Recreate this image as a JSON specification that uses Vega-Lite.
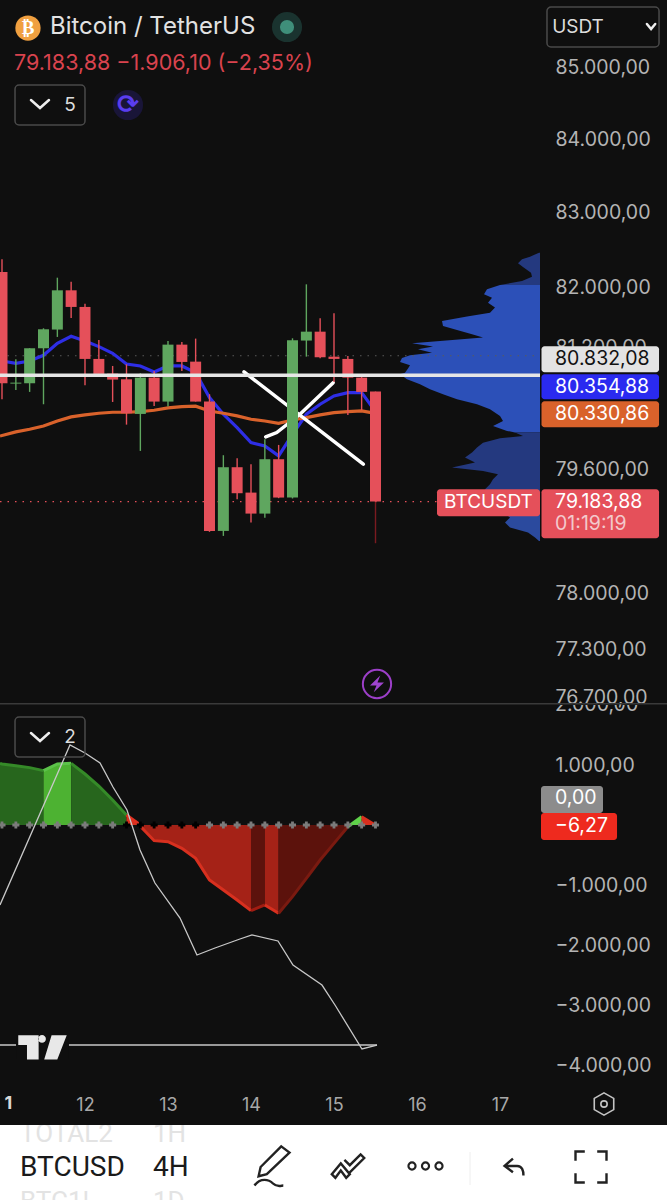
{
"$schema":"https://vega.github.io/schema/vega-lite/v6.json",
"background":"#0f0f0f","padding":0,"spacing":0,"bounds":"flush",
"config":{"view":{"stroke":null},"concat":{"spacing":0},"locale":{"number":{"decimal":",","thousands":".","grouping":[3],"currency":["","€"]}},"text":{"font":"Inter"}},
"datasets":{
"profile":[
{"price":82465,"vol":1,"zone":"upper"},{"price":82411,"vol":10,"zone":"upper"},{"price":82375,"vol":18,"zone":"upper"},{"price":82321,"vol":22,"zone":"upper"},{"price":82263,"vol":16,"zone":"upper"},{"price":82196,"vol":9,"zone":"upper"},{"price":82143,"vol":8,"zone":"upper"},{"price":82085,"vol":18,"zone":"upper"},{"price":82031,"vol":40,"zone":"upper"},
{"price":82031,"vol":40,"zone":"value"},{"price":81973,"vol":53,"zone":"value"},{"price":81907,"vol":56,"zone":"value"},{"price":81862,"vol":48,"zone":"value"},{"price":81795,"vol":52,"zone":"value"},{"price":81729,"vol":45,"zone":"value"},{"price":81662,"vol":50,"zone":"value"},{"price":81609,"vol":73,"zone":"value"},{"price":81551,"vol":98,"zone":"value"},{"price":81485,"vol":97,"zone":"value"},{"price":81432,"vol":83,"zone":"value"},{"price":81374,"vol":68,"zone":"value"},{"price":81330,"vol":57,"zone":"value"},{"price":81286,"vol":100,"zone":"value"},{"price":81255,"vol":128,"zone":"value"},{"price":81211,"vol":107,"zone":"value"},{"price":81175,"vol":122,"zone":"value"},{"price":81131,"vol":108,"zone":"value"},{"price":81096,"vol":130,"zone":"value"},{"price":81061,"vol":138,"zone":"value"},{"price":81008,"vol":140,"zone":"value"},{"price":80964,"vol":130,"zone":"value"},{"price":80920,"vol":132,"zone":"value"},{"price":80867,"vol":135,"zone":"value"},{"price":80845,"vol":140,"zone":"value"},{"price":80779,"vol":133,"zone":"value"},{"price":80714,"vol":120,"zone":"value"},{"price":80648,"vol":110,"zone":"value"},{"price":80582,"vol":97,"zone":"value"},{"price":80516,"vol":83,"zone":"value"},{"price":80451,"vol":63,"zone":"value"},{"price":80385,"vol":50,"zone":"value"},{"price":80298,"vol":40,"zone":"value"},{"price":80232,"vol":37,"zone":"value"},{"price":80167,"vol":47,"zone":"value"},{"price":80102,"vol":33,"zone":"value"},{"price":80080,"vol":25,"zone":"value"},
{"price":80080,"vol":25,"zone":"lower"},{"price":80037,"vol":17,"zone":"lower"},{"price":80006,"vol":40,"zone":"lower"},{"price":79949,"vol":57,"zone":"lower"},{"price":79884,"vol":63,"zone":"lower"},{"price":79819,"vol":68,"zone":"lower"},{"price":79754,"vol":75,"zone":"lower"},{"price":79689,"vol":65,"zone":"lower"},{"price":79624,"vol":88,"zone":"lower"},{"price":79581,"vol":57,"zone":"lower"},{"price":79538,"vol":42,"zone":"lower"},{"price":79473,"vol":47,"zone":"lower"},{"price":79408,"vol":50,"zone":"lower"},{"price":79343,"vol":55,"zone":"lower"},{"price":79171,"vol":50,"zone":"lower"},
{"price":79171,"vol":50,"zone":"bottom"},{"price":78978,"vol":30,"zone":"bottom"},{"price":78914,"vol":35,"zone":"bottom"},{"price":78849,"vol":30,"zone":"bottom"},{"price":78785,"vol":12,"zone":"bottom"},{"price":78721,"vol":5,"zone":"bottom"},{"price":78678,"vol":1,"zone":"bottom"}
],
"candles":[
{"day":11.0,"open":82205,"close":80727,"hi":82375,"lo":80516,"dir":"down"},
{"day":11.167,"open":80722,"close":80735,"hi":81043,"lo":80639,"dir":"up"},
{"day":11.333,"open":80727,"close":81189,"hi":81189,"lo":80613,"dir":"up"},
{"day":11.5,"open":81189,"close":81441,"hi":81454,"lo":80451,"dir":"up"},
{"day":11.667,"open":81437,"close":81960,"hi":82129,"lo":81339,"dir":"up"},
{"day":11.833,"open":81960,"close":81738,"hi":82076,"lo":81591,"dir":"down"},
{"day":12.0,"open":81738,"close":81048,"hi":81782,"lo":80700,"dir":"down"},
{"day":12.167,"open":81048,"close":80850,"hi":81299,"lo":80823,"dir":"down"},
{"day":12.333,"open":80854,"close":80775,"hi":80955,"lo":80481,"dir":"down"},
{"day":12.5,"open":80779,"close":80333,"hi":80977,"lo":80184,"dir":"down"},
{"day":12.667,"open":80324,"close":80801,"hi":80858,"lo":79841,"dir":"up"},
{"day":12.833,"open":80801,"close":80486,"hi":80889,"lo":80429,"dir":"down"},
{"day":13.0,"open":80486,"close":81237,"hi":81286,"lo":80420,"dir":"up"},
{"day":13.167,"open":81237,"close":81008,"hi":81272,"lo":80889,"dir":"down"},
{"day":13.333,"open":81012,"close":80486,"hi":81317,"lo":80486,"dir":"down"},
{"day":13.5,"open":80486,"close":78806,"hi":80582,"lo":78794,"dir":"down"},
{"day":13.667,"open":78806,"close":79629,"hi":79785,"lo":78742,"dir":"up"},
{"day":13.833,"open":79629,"close":79292,"hi":79746,"lo":79214,"dir":"down"},
{"day":14.0,"open":79300,"close":79029,"hi":79668,"lo":78914,"dir":"down"},
{"day":14.167,"open":79029,"close":79733,"hi":79993,"lo":78974,"dir":"up"},
{"day":14.333,"open":79733,"close":79236,"hi":79919,"lo":79228,"dir":"down"},
{"day":14.5,"open":79236,"close":81295,"hi":81321,"lo":79224,"dir":"up"},
{"day":14.667,"open":81291,"close":81409,"hi":82040,"lo":81078,"dir":"up"},
{"day":14.833,"open":81409,"close":81070,"hi":81587,"lo":81056,"dir":"down"},
{"day":15.0,"open":81078,"close":81048,"hi":81653,"lo":80744,"dir":"down"},
{"day":15.167,"open":81048,"close":80801,"hi":81087,"lo":80311,"dir":"down"},
{"day":15.333,"open":80801,"close":80613,"hi":80823,"lo":80372,"dir":"down"},
{"day":15.5,"open":80617,"close":79183.88,"hi":80617,"lo":79183.88,"dir":"down"}
],
"ma":[
{"day":11.0,"price":81021,"ma":"fast"},{"day":11.167,"price":80990,"ma":"fast"},{"day":11.333,"price":81021,"ma":"fast"},{"day":11.5,"price":81096,"ma":"fast"},{"day":11.667,"price":81255,"ma":"fast"},{"day":11.833,"price":81348,"ma":"fast"},{"day":12.0,"price":81286,"ma":"fast"},{"day":12.167,"price":81211,"ma":"fast"},{"day":12.333,"price":81122,"ma":"fast"},{"day":12.5,"price":80981,"ma":"fast"},{"day":12.667,"price":80955,"ma":"fast"},{"day":12.833,"price":80876,"ma":"fast"},{"day":13.0,"price":80955,"ma":"fast"},{"day":13.167,"price":80955,"ma":"fast"},{"day":13.333,"price":80867,"ma":"fast"},{"day":13.5,"price":80538,"ma":"fast"},{"day":13.667,"price":80320,"ma":"fast"},{"day":13.833,"price":80145,"ma":"fast"},{"day":14.0,"price":79949,"ma":"fast"},{"day":14.167,"price":79906,"ma":"fast"},{"day":14.333,"price":79776,"ma":"fast"},{"day":14.5,"price":80058,"ma":"fast"},{"day":14.667,"price":80320,"ma":"fast"},{"day":14.833,"price":80451,"ma":"fast"},{"day":15.0,"price":80560,"ma":"fast"},{"day":15.167,"price":80604,"ma":"fast"},{"day":15.333,"price":80604,"ma":"fast"},{"day":15.5,"price":80354.88,"ma":"fast"},
{"day":10.976,"price":80035,"ma":"slow"},{"day":11.167,"price":80089,"ma":"slow"},{"day":11.333,"price":80123,"ma":"slow"},{"day":11.5,"price":80167,"ma":"slow"},{"day":11.667,"price":80232,"ma":"slow"},{"day":11.833,"price":80285,"ma":"slow"},{"day":12.0,"price":80311,"ma":"slow"},{"day":12.167,"price":80333,"ma":"slow"},{"day":12.333,"price":80346,"ma":"slow"},{"day":12.5,"price":80346,"ma":"slow"},{"day":12.667,"price":80355,"ma":"slow"},{"day":12.833,"price":80372,"ma":"slow"},{"day":13.0,"price":80403,"ma":"slow"},{"day":13.167,"price":80420,"ma":"slow"},{"day":13.333,"price":80425,"ma":"slow"},{"day":13.5,"price":80363,"ma":"slow"},{"day":13.667,"price":80333,"ma":"slow"},{"day":13.833,"price":80298,"ma":"slow"},{"day":14.0,"price":80254,"ma":"slow"},{"day":14.167,"price":80232,"ma":"slow"},{"day":14.333,"price":80202,"ma":"slow"},{"day":14.5,"price":80245,"ma":"slow"},{"day":14.667,"price":80276,"ma":"slow"},{"day":14.833,"price":80311,"ma":"slow"},{"day":15.0,"price":80342,"ma":"slow"},{"day":15.167,"price":80355,"ma":"slow"},{"day":15.333,"price":80363,"ma":"slow"},{"day":15.5,"price":80330.86,"ma":"slow"}
],
"strokes":[
{"day":13.916,"price":80876,"s":"a"},{"day":15.353,"price":79668,"s":"a"},
{"day":14.177,"price":80023,"s":"b"},{"day":14.31,"price":80080,"s":"b"},{"day":14.437,"price":80189,"s":"b"},{"day":14.59,"price":80320,"s":"b"},{"day":14.99,"price":80735,"s":"b"}
],
"chips":[
{"x0":17.5,"x1":18.916,"top":81215,"bottom":80872,"c":"last"},
{"x0":17.5,"x1":18.916,"top":80845,"bottom":80516,"c":"fast"},
{"x0":17.5,"x1":18.916,"top":80490,"bottom":80149,"c":"slow"},
{"x0":17.5,"x1":18.916,"top":79343,"bottom":78712,"c":"price"},
{"x0":16.241,"x1":17.482,"top":79343,"bottom":78995,"c":"price"}
],
"chipText":[
{"day":17.663,"price":81043,"label":"80.832,08","c":"dark"},
{"day":17.663,"price":80680,"label":"80.354,88","c":"light"},
{"day":17.663,"price":80320,"label":"80.330,86","c":"light"},
{"day":17.663,"price":79183.88,"label":"79.183,88","c":"light"},
{"day":17.663,"price":78892,"label":"01:19:19","c":"soft"}
],
"boxes":[
{"x0":11.157,"x1":12.0,"top":84751,"bottom":84200},
{"x0":17.566,"x1":18.916,"top":85836,"bottom":85278}
],
"chev":[
{"day":11.349,"price":84544,"g":"a"},{"day":11.458,"price":84433,"g":"a"},{"day":11.566,"price":84544,"g":"a"},
{"day":18.77,"price":85598,"g":"b"},{"day":18.82,"price":85528,"g":"b"},{"day":18.87,"price":85598,"g":"b"}
],
"indicator":[
{"day":10.976,"hist":1028,"seg":"A"},{"day":11.0,"hist":1017,"seg":"A"},{"day":11.167,"hist":989,"seg":"A"},{"day":11.333,"hist":956,"seg":"A"},{"day":11.5,"hist":906,"seg":"A"},
{"day":11.5,"hist":906,"seg":"B"},{"day":11.667,"hist":1017,"seg":"B"},{"day":11.833,"hist":1028,"seg":"B"},
{"day":11.833,"hist":1028,"seg":"C"},{"day":12.0,"hist":850,"seg":"C"},{"day":12.167,"hist":650,"seg":"C"},{"day":12.333,"hist":417,"seg":"C"},{"day":12.5,"hist":167,"seg":"C"},
{"day":12.5,"hist":167,"seg":"D"},{"day":12.667,"hist":0,"seg":"D"},
{"day":12.667,"hist":-20,"seg":"F"},{"day":12.833,"hist":-261,"seg":"F"},{"day":13.0,"hist":-278,"seg":"F"},{"day":13.167,"hist":-389,"seg":"F"},{"day":13.333,"hist":-556,"seg":"F"},{"day":13.5,"hist":-917,"seg":"F"},{"day":13.667,"hist":-1083,"seg":"F"},{"day":13.833,"hist":-1250,"seg":"F"},{"day":14.0,"hist":-1428,"seg":"F"},
{"day":14.0,"hist":-1428,"seg":"G"},{"day":14.167,"hist":-1333,"seg":"G"},
{"day":14.167,"hist":-1333,"seg":"H"},{"day":14.333,"hist":-1472,"seg":"H"},
{"day":14.333,"hist":-1472,"seg":"I"},{"day":14.5,"hist":-1194,"seg":"I"},{"day":14.667,"hist":-889,"seg":"I"},{"day":14.833,"hist":-583,"seg":"I"},{"day":15.0,"hist":-306,"seg":"I"},{"day":15.167,"hist":-28,"seg":"I"},
{"day":15.167,"hist":-28,"seg":"J"},{"day":15.333,"hist":139,"seg":"J"},
{"day":15.333,"hist":139,"seg":"K"},{"day":15.5,"hist":-6.27,"seg":"K"}
],
"zeroMarks":[
{"day":11.0,"s":"g"},{"day":11.167,"s":"g"},{"day":11.333,"s":"g"},{"day":11.5,"s":"g"},{"day":11.667,"s":"g"},{"day":11.833,"s":"g"},{"day":12.0,"s":"g"},{"day":12.167,"s":"g"},{"day":12.333,"s":"g"},{"day":12.5,"s":"k"},{"day":12.667,"s":"k"},{"day":12.833,"s":"k"},{"day":13.0,"s":"k"},{"day":13.167,"s":"k"},{"day":13.333,"s":"k"},{"day":13.5,"s":"g"},{"day":13.667,"s":"g"},{"day":13.833,"s":"g"},{"day":14.0,"s":"g"},{"day":14.167,"s":"g"},{"day":14.333,"s":"g"},{"day":14.5,"s":"g"},{"day":14.667,"s":"g"},{"day":14.833,"s":"g"},{"day":15.0,"s":"g"},{"day":15.167,"s":"g"},{"day":15.333,"s":"g"},{"day":15.5,"s":"g"}
],
"osc":[
{"day":10.976,"v":-1333,"s":"main"},{"day":11.819,"v":1333,"s":"main"},{"day":12.0,"v":1200,"s":"main"},{"day":12.181,"v":1033,"s":"main"},{"day":12.337,"v":633,"s":"main"},{"day":12.506,"v":250,"s":"main"},{"day":12.663,"v":-417,"s":"main"},{"day":12.843,"v":-967,"s":"main"},{"day":13.145,"v":-1550,"s":"main"},{"day":13.349,"v":-2167,"s":"main"},{"day":13.566,"v":-2050,"s":"main"},{"day":13.867,"v":-1900,"s":"main"},{"day":14.012,"v":-1833,"s":"main"},{"day":14.325,"v":-1933,"s":"main"},{"day":14.506,"v":-2333,"s":"main"},{"day":14.855,"v":-2667,"s":"main"},{"day":15.012,"v":-3000,"s":"main"},{"day":15.337,"v":-3733,"s":"main"},{"day":15.518,"v":-3667,"s":"main"},
{"day":10.976,"v":-3667,"s":"signal"},{"day":15.518,"v":-3667,"s":"signal"}
],
"lowerChips":[
{"x0":17.494,"x1":18.241,"top":650,"bottom":200,"c":"zero"},
{"x0":17.494,"x1":18.41,"top":200,"bottom":-250,"c":"hist"}
]
},
"vconcat":[
{"width":667,"height":705,
"layer":[
{"data":{"name":"profile"},"mark":{"type":"area","orient":"horizontal"},
"encoding":{
"y":{"field":"price","type":"quantitative","title":null,"scale":{"type":"log","domain":[76600,85934],"nice":false,"zero":false},"axis":{"orient":"right","values":[85000,84000,83000,82000,81200,79600,78000,77300,76700],"format":",.2f","labelPadding":-112,"labelAlign":"left","labelColor":"#b4b4b4","labelFont":"Inter","labelFontSize":19.5,"ticks":false,"domain":false,"grid":false,"title":null,"labelOverlap":false,"labelFlush":false,"labelBound":false}},
"x":{"field":"vol","type":"quantitative","stack":null,"scale":{"domain":[540,-127],"nice":false,"zero":false},"axis":null},
"x2":{"datum":0},
"fill":{"field":"zone","type":"nominal","scale":{"domain":["upper","value","lower","bottom"],"range":["#24397f","#2c50b8","#24397f","#2b4a9e"]},"legend":null}
}},
{"encoding":{"x":{"field":"day","type":"quantitative","scale":{"domain":[10.976,19.012],"nice":false,"zero":false,"padding":0},"axis":null}},
"layer":[
{"data":{"values":[{"price":81090,"day":10.976,"end":17.482}]},"mark":{"type":"rule","stroke":"#5a5a5a","strokeWidth":1.2,"strokeDash":[1.5,6],"clip":true},"encoding":{"x2":{"field":"end"},"y":{"field":"price","type":"quantitative","title":null}}},
{"data":{"values":[{"price":79183.88,"day":10.976,"end":16.241}]},"mark":{"type":"rule","stroke":"#e5505a","strokeWidth":1.2,"strokeDash":[1.5,6],"clip":true},"encoding":{"x2":{"field":"end"},"y":{"field":"price","type":"quantitative","title":null}}},
{"data":{"name":"ma"},"mark":{"type":"line","strokeWidth":3.2,"clip":true},"encoding":{"y":{"field":"price","type":"quantitative","title":null},"stroke":{"field":"ma","type":"nominal","scale":{"domain":["fast","slow"],"range":["#2e2ee6","#d9622b"]},"legend":null}}},
{"data":{"name":"strokes"},"mark":{"type":"line","stroke":"#ffffff","strokeWidth":3.5,"strokeCap":"round"},"encoding":{"detail":{"field":"s"},"y":{"field":"price","type":"quantitative","title":null}}},
{"data":{"name":"candles"},"mark":{"type":"rule","strokeWidth":1.4,"clip":true},"encoding":{"y":{"field":"hi","type":"quantitative","title":null},"y2":{"field":"lo"},"color":{"field":"dir","type":"nominal","scale":{"domain":["up","down"],"range":["#5fa65f","#e5505a"]},"legend":null}}},
{"data":{"values":[{"day":15.5,"hi":79183.88,"lo":78648}]},"mark":{"type":"rule","strokeWidth":1.4,"stroke":"#7a1a20"},"encoding":{"y":{"field":"hi","type":"quantitative","title":null},"y2":{"field":"lo"}}},
{"data":{"name":"candles"},"mark":{"type":"bar","size":11,"orient":"vertical","clip":true},"encoding":{"y":{"field":"open","type":"quantitative","title":null},"y2":{"field":"close"},"color":{"field":"dir","type":"nominal","scale":{"domain":["up","down"],"range":["#5fa65f","#e5505a"]},"legend":null}}},
{"data":{"values":[{"price":80832.08,"day":10.976,"end":17.482}]},"mark":{"type":"rule","stroke":"#e6e6e6","strokeWidth":3.6,"clip":true},"encoding":{"x2":{"field":"end"},"y":{"field":"price","type":"quantitative","title":null}}},
{"data":{"name":"chips"},"mark":{"type":"rect","cornerRadius":3},"encoding":{"x":{"field":"x0","type":"quantitative","title":null},"x2":{"field":"x1"},"y":{"field":"top","type":"quantitative","title":null},"y2":{"field":"bottom"},"fill":{"field":"c","type":"nominal","scale":{"domain":["last","fast","slow","price"],"range":["#e3e3e3","#2a2af0","#d9622b","#e5505a"]},"legend":null}}},
{"data":{"name":"chipText"},"mark":{"type":"text","align":"left","baseline":"middle","font":"Inter","fontSize":19.5},"encoding":{"y":{"field":"price","type":"quantitative","title":null},"text":{"field":"label"},"color":{"field":"c","type":"nominal","scale":{"domain":["dark","light","soft"],"range":["#111111","#ffffff","#f3c9cc"]},"legend":null}}},
{"data":{"values":[{"day":16.861,"price":79175,"label":"BTCUSDT"}]},"mark":{"type":"text","align":"center","baseline":"middle","font":"Inter","fontSize":19,"fill":"#ffffff"},"encoding":{"y":{"field":"price","type":"quantitative","title":null},"text":{"field":"label"}}},
{"data":{"name":"boxes"},"mark":{"type":"rect","fill":null,"stroke":"#4a4a4a","strokeWidth":1.5,"cornerRadius":4},"encoding":{"x":{"field":"x0","type":"quantitative","title":null},"x2":{"field":"x1"},"y":{"field":"top","type":"quantitative","title":null},"y2":{"field":"bottom"}}},
{"data":{"name":"chev"},"mark":{"type":"line","stroke":"#eeeeee","strokeWidth":2.5,"strokeCap":"round"},"encoding":{"detail":{"field":"g"},"y":{"field":"price","type":"quantitative","title":null}}},
{"data":{"values":[{"day":11.313,"price":85542}]},"mark":{"type":"point","filled":true,"opacity":1,"shape":"circle","fill":"#f0a040","size":640},"encoding":{"y":{"field":"price","type":"quantitative","title":null}}},
{"data":{"values":[{"day":14.434,"price":85556}]},"mark":{"type":"point","filled":true,"opacity":1,"shape":"circle","fill":"#1a332f","size":908},"encoding":{"y":{"field":"price","type":"quantitative","title":null}}},
{"data":{"values":[{"day":14.434,"price":85556}]},"mark":{"type":"point","filled":true,"opacity":1,"shape":"circle","fill":"#3f8f7a","size":200},"encoding":{"y":{"field":"price","type":"quantitative","title":null}}},
{"data":{"values":[{"day":12.518,"price":84475}]},"mark":{"type":"point","filled":true,"opacity":1,"shape":"circle","fill":"#191538","size":908},"encoding":{"y":{"field":"price","type":"quantitative","title":null}}},
{"data":{"values":[{"day":15.518,"price":76863}]},"mark":{"type":"point","filled":false,"stroke":"#9c3fc8","strokeWidth":2,"size":800,"shape":"circle","opacity":1},"encoding":{"y":{"field":"price","type":"quantitative","title":null}}},
{"data":{"values":[{"day":15.518,"price":76863}]},"mark":{"type":"point","filled":true,"fill":"#a045d0","opacity":1,"size":346,"shape":"M.35,-.9L-.75,.15L-.05,.15L-.35,.9L.75,-.15L.05,-.15Z"},"encoding":{"y":{"field":"price","type":"quantitative","title":null}}},
{"data":{"values":[{"day":11.313,"price":85542,"label":"₿"}]},"mark":{"type":"text","font":"DejaVu Sans","fontWeight":"bold","fontSize":19,"align":"center","baseline":"middle","fill":"#ffffff"},"encoding":{"y":{"field":"price","type":"quantitative","title":null},"text":{"field":"label"}}},
{"data":{"values":[{"day":12.518,"price":84475,"label":"⟳"}]},"mark":{"type":"text","font":"DejaVu Sans","fontWeight":"bold","fontSize":26,"align":"center","baseline":"middle","fill":"#5a3df0"},"encoding":{"y":{"field":"price","type":"quantitative","title":null},"text":{"field":"label"}}},
{"data":{"values":[{"day":11.578,"price":85556,"label":"Bitcoin / TetherUS"}]},"mark":{"type":"text","align":"left","baseline":"middle","font":"Inter","fontSize":24,"fill":"#e2e2e2"},"encoding":{"y":{"field":"price","type":"quantitative","title":null},"text":{"field":"label"}}},
{"data":{"values":[{"day":11.145,"price":85042,"label":"79.183,88  −1.906,10 (−2,35%)"}]},"mark":{"type":"text","align":"left","baseline":"middle","font":"Inter","fontSize":21.5,"fill":"#d9434e"},"encoding":{"y":{"field":"price","type":"quantitative","title":null},"text":{"field":"label"}}},
{"data":{"values":[{"day":11.819,"price":84475,"label":"5"},{"day":17.94,"price":85556,"label":"USDT"}]},"mark":{"type":"text","align":"center","baseline":"middle","font":"Inter","fontSize":19,"fill":"#dddddd"},"encoding":{"y":{"field":"price","type":"quantitative","title":null},"text":{"field":"label"}}},
{"data":{"values":[{"day":10.976,"end":19.012,"price":76615}]},"mark":{"type":"rule","stroke":"#3a3a3a","strokeWidth":1.5,"clip":true},"encoding":{"x2":{"field":"end"},"y":{"field":"price","type":"quantitative","title":null}}}
],
"resolve":{"scale":{"fill":"independent","color":"independent","stroke":"independent"}}
}
],
"resolve":{"scale":{"x":"independent","fill":"independent","color":"independent","stroke":"independent"}}
},
{"width":667,"height":420,
"encoding":{"x":{"field":"day","type":"quantitative","title":null,"scale":{"domain":[10.976,19.012],"nice":false,"zero":false},"axis":{"orient":"bottom","values":[12,13,14,15,16,17],"format":"d","labelPadding":-20,"labelBaseline":"middle","labelColor":"#a8a8a8","labelFont":"Inter","labelFontSize":18,"ticks":false,"domain":false,"grid":false,"title":null,"labelFlush":false,"labelBound":false,"labelOverlap":false}}},
"layer":[
{"data":{"name":"indicator"},"mark":{"type":"area","clip":true},"encoding":{
"y":{"field":"hist","type":"quantitative","title":null,"stack":null,"scale":{"domain":[-5000,2000],"nice":false,"zero":false},"axis":{"orient":"right","values":[1000,-1000,-2000,-3000,-4000],"format":",.2f","labelPadding":-112,"labelAlign":"left","labelColor":"#b4b4b4","labelFont":"Inter","labelFontSize":19.5,"ticks":false,"domain":false,"grid":false,"title":null,"labelOverlap":false,"labelFlush":false,"labelBound":false}},
"y2":{"datum":0},
"fill":{"field":"seg","type":"nominal","scale":{"domain":["A","B","C","D","F","G","H","I","J","K"],"range":["#27661d","#4db232","#27661d","#d8301f","#a52217","#5c120c","#a52217","#5c120c","#5fd24a","#d8301f"]},"legend":null}
}},
{"data":{"name":"indicator"},"mark":{"type":"line","strokeWidth":3,"clip":true},"encoding":{
"y":{"field":"hist","type":"quantitative","title":null,"stack":null},
"stroke":{"field":"seg","type":"nominal","scale":{"domain":["A","B","C","D","F","G","H","I","J","K"],"range":["#358a28","#5cc24a","#358a28","#e03020","#d8301f","#a01c12","#d8301f","#7a1a10","#5fd24a","#d8301f"]},"legend":null}
}},
{"data":{"name":"zeroMarks"},"mark":{"type":"point","shape":"cross","filled":true,"size":50,"opacity":1,"clip":true},"encoding":{"y":{"datum":0,"type":"quantitative","title":null},"fill":{"field":"s","type":"nominal","scale":{"domain":["g","k"],"range":["#7b7b7b","#000000"]},"legend":null}}},
{"data":{"name":"osc"},"mark":{"type":"line","stroke":"#c8c8c8","strokeWidth":1.3,"clip":true},"encoding":{"detail":{"field":"s"},"y":{"field":"v","type":"quantitative","title":null}}},
{"data":{"values":[{"x0":11.169,"x1":11.807,"top":-3500,"bottom":-3900}]},"mark":{"type":"rect","fill":"#0f0f0f"},"encoding":{"x":{"field":"x0","type":"quantitative","title":null},"x2":{"field":"x1"},"y":{"field":"top","type":"quantitative","title":null},"y2":{"field":"bottom"}}},
{"data":{"values":[{"day":11.488,"v":-3708}]},"mark":{"type":"point","filled":true,"fill":"#e8e8e8","opacity":1,"size":2350,"shape":"M-1,-.5L-.16,-.5L-.16,.5L-.64,.5L-.64,-.1L-1,-.1Z M.375,-.5L1,-.5L.61,.5L.07,.5Z M-.18,-.35a.16,.16 0 1,0 .32,0a.16,.16 0 1,0 -.32,0Z"},"encoding":{"y":{"field":"v","type":"quantitative","title":null}}},
{"data":{"values":[{"x0":11.157,"x1":12.0,"top":1800,"bottom":1133}]},"mark":{"type":"rect","fill":null,"stroke":"#4a4a4a","strokeWidth":1.5,"cornerRadius":4},"encoding":{"x":{"field":"x0","type":"quantitative","title":null},"x2":{"field":"x1"},"y":{"field":"top","type":"quantitative","title":null},"y2":{"field":"bottom"}}},
{"data":{"values":[{"day":11.349,"v":1533},{"day":11.458,"v":1400},{"day":11.566,"v":1533}]},"mark":{"type":"line","stroke":"#eeeeee","strokeWidth":2.5,"strokeCap":"round"},"encoding":{"y":{"field":"v","type":"quantitative","title":null}}},
{"data":{"values":[{"day":11.819,"v":1467,"label":"2"}]},"mark":{"type":"text","align":"center","baseline":"middle","font":"Inter","fontSize":19,"fill":"#dddddd"},"encoding":{"y":{"field":"v","type":"quantitative","title":null},"text":{"field":"label"}}},
{"data":{"name":"lowerChips"},"mark":{"type":"rect","cornerRadius":3},"encoding":{"x":{"field":"x0","type":"quantitative","title":null},"x2":{"field":"x1"},"y":{"field":"top","type":"quantitative","title":null},"y2":{"field":"bottom"},"fill":{"field":"c","type":"nominal","scale":{"domain":["zero","hist"],"range":["#8c8c8c","#ee2a1e"]},"legend":null}}},
{"data":{"values":[{"day":17.663,"v":450,"label":"0,00"},{"day":17.663,"v":-17,"label":"−6,27"}]},"mark":{"type":"text","align":"left","baseline":"middle","font":"Inter","fontSize":19.5,"fill":"#ffffff"},"encoding":{"y":{"field":"v","type":"quantitative","title":null},"text":{"field":"label"}}},
{"data":{"values":[{"day":17.663,"v":2000,"label":"2.000,00"}]},"mark":{"type":"text","align":"left","baseline":"middle","font":"Inter","fontSize":19.5,"fill":"#b4b4b4","clip":true},"encoding":{"y":{"field":"v","type":"quantitative","title":null},"text":{"field":"label"}}},
{"data":{"values":[{"day":11.03,"v":-4650,"label":"1"}]},"mark":{"type":"text","align":"left","baseline":"middle","font":"Inter","fontWeight":"bold","fontSize":18,"fill":"#d8d8d8"},"encoding":{"y":{"field":"v","type":"quantitative","title":null},"text":{"field":"label"}}},
{"data":{"values":[{"day":18.253,"v":-4650}]},"mark":{"type":"point","filled":false,"stroke":"#c4c4c4","strokeWidth":1.6,"opacity":1,"size":500,"shape":"M0,-1L.87,-.5L.87,.5L0,1L-.87,.5L-.87,-.5Z"},"encoding":{"y":{"field":"v","type":"quantitative","title":null}}},
{"data":{"values":[{"day":18.253,"v":-4650}]},"mark":{"type":"point","filled":false,"stroke":"#c4c4c4","strokeWidth":1.6,"opacity":1,"size":40,"shape":"circle"},"encoding":{"y":{"field":"v","type":"quantitative","title":null}}}
],
"resolve":{"scale":{"fill":"independent","stroke":"independent"}}
},
{"width":667,"height":75,"view":{"fill":"#ffffff","stroke":null},
"encoding":{"x":{"field":"sx","type":"quantitative","scale":{"domain":[0,667],"nice":false,"zero":false},"axis":null}},
"layer":[
{"data":{"values":[{"sx":20,"sy":9,"label":"TOTAL2"},{"sx":153,"sy":9,"label":"1H"},{"sx":20,"sy":77,"label":"BTC1!"},{"sx":153,"sy":77,"label":"1D"}]},"mark":{"type":"text","align":"left","baseline":"middle","font":"Roboto","fontSize":26,"fill":"#e3e3e3","clip":true},"encoding":{"y":{"field":"sy","type":"quantitative","scale":{"domain":[0,75],"reverse":true,"nice":false,"zero":false},"axis":null},"text":{"field":"label"}}},
{"data":{"values":[{"sx":20,"sy":43,"label":"BTCUSD"},{"sx":153,"sy":43,"label":"4H"}]},"mark":{"type":"text","align":"left","baseline":"middle","font":"Roboto","fontSize":28,"fill":"#1a1a1a"},"encoding":{"y":{"field":"sy","type":"quantitative","axis":null},"text":{"field":"label"}}},
{"data":{"values":[{"sx":273,"sy":42}]},"mark":{"type":"point","filled":false,"stroke":"#222222","strokeWidth":2.4,"opacity":1,"size":1700,"shape":"M.4,-1L.8,-.7L-.3,.35L-.7,.45L-.6,0Z M-.9,.9C-.6,.5 -.2,.6 0,.8C.2,1 .4,.9 .5,.9"},"encoding":{"y":{"field":"sy","type":"quantitative","axis":null}}},
{"data":{"values":[{"sx":348,"sy":42}]},"mark":{"type":"point","filled":false,"stroke":"#222222","strokeWidth":2.4,"opacity":1,"size":1300,"shape":"M-.9,.4L-.4,-.2L.1,.4L-.1,.6L-.4,.2L-.7,.6Z M-.2,-.4L.1,-.1L.7,-.7L.9,-.5L.1,.3"},"encoding":{"y":{"field":"sy","type":"quantitative","axis":null}}},
{"data":{"values":[{"sx":412,"sy":41},{"sx":425.5,"sy":41},{"sx":439,"sy":41}]},"mark":{"type":"point","filled":false,"stroke":"#222222","strokeWidth":2.2,"opacity":1,"size":50,"shape":"circle"},"encoding":{"y":{"field":"sy","type":"quantitative","axis":null}}},
{"data":{"values":[{"sx":470,"top":27,"bottom":60}]},"mark":{"type":"rule","stroke":"#eeeeee","strokeWidth":1},"encoding":{"y":{"field":"top","type":"quantitative","axis":null},"y2":{"field":"bottom"}}},
{"data":{"values":[{"sx":514,"sy":42}]},"mark":{"type":"point","filled":false,"stroke":"#222222","strokeWidth":2.4,"opacity":1,"size":441,"shape":"M-.1,-.8L-.9,-.1L-.1,.5M-.9,-.1L.3,-.1C.8,-.1 .9,.4 .9,.8"},"encoding":{"y":{"field":"sy","type":"quantitative","axis":null}}},
{"data":{"values":[{"sx":591,"sy":42}]},"mark":{"type":"point","filled":false,"stroke":"#222222","strokeWidth":2.4,"opacity":1,"size":961,"shape":"M-1,-.4L-1,-1L-.4,-1M.4,-1L1,-1L1,-.4M1,.4L1,1L.4,1M-.4,1L-1,1L-1,.4"},"encoding":{"y":{"field":"sy","type":"quantitative","axis":null}}}
]
}
]
}
